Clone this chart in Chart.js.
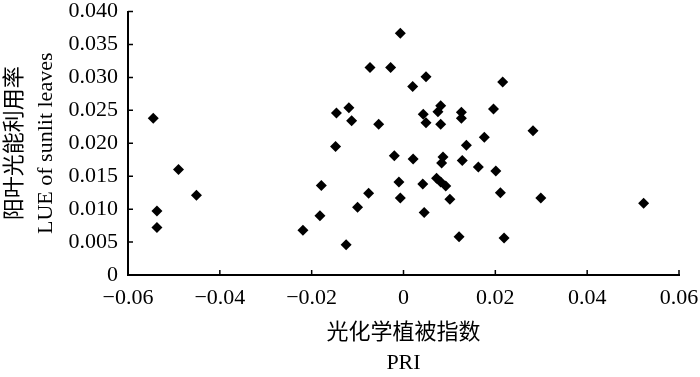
<!DOCTYPE html>
<html>
<head>
<meta charset="utf-8">
<script src="https://cdn.jsdelivr.net/npm/chart.js@4/dist/chart.umd.min.js"></script>
<style>
  html, body { margin: 0; padding: 0; background: #fff; }
  #wrap { width: 700px; height: 377px; }
</style>
</head>
<body>
<div id="wrap"><canvas id="chart"></canvas></div>
<script>
// PRI (x) vs LUE of sunlit leaves (y)
const pri = [
  -0.0545, -0.0537, -0.0537, -0.0490, -0.0451, -0.0219, -0.0182, -0.0179,
  -0.0148, -0.0125, -0.0100, -0.0076, -0.0020, -0.0010, -0.0007, 0.0021,
  0.0042, 0.0045, 0.0086, 0.0083, 0.0072, 0.0081, 0.0092, 0.0101,
  0.0121, 0.0128, 0.0137, 0.0176, 0.0163, 0.0201, 0.0211, 0.0219,
  0.0299, 0.0523, 0.0282, -0.0007, -0.0028, 0.0020, 0.0049, 0.0216,
  0.0043, 0.0049, 0.0081, 0.0075, 0.0081, 0.0126, 0.0126, 0.0196,
  -0.0054, -0.0073, -0.0146, -0.0119, -0.0113
];
const lue = [
  0.0238, 0.0097, 0.0072, 0.0160, 0.0121, 0.0068, 0.0090, 0.0136,
  0.0195, 0.0046, 0.0103, 0.0124, 0.0181, 0.0141, 0.0117, 0.0176,
  0.0138, 0.0095, 0.0179, 0.0170, 0.0147, 0.0141, 0.0135, 0.0115,
  0.0058, 0.0174, 0.0197, 0.0209, 0.0164, 0.0158, 0.0125, 0.0056,
  0.0117, 0.0109, 0.0219, 0.0367, 0.0315, 0.0286, 0.0301, 0.0293,
  0.0244, 0.0231, 0.0257, 0.0248, 0.0229, 0.0247, 0.0238, 0.0252,
  0.0229, 0.0315, 0.0246, 0.0254, 0.0234
];

const xTicks = [-0.06, -0.04, -0.02, 0, 0.02, 0.04, 0.06];
const yTicks = [0, 0.005, 0.01, 0.015, 0.02, 0.025, 0.03, 0.035, 0.04];

const xTitle = ["光化学植被指数", "PRI"];
const yTitle = ["阳叶光能利用率", "LUE of sunlit leaves"];

const FONT = '"Liberation Serif", "Times New Roman", "Noto Sans CJK SC", serif';

const points = pri.map((v, i) => ({ x: v, y: lue[i] }));

const fmtX = (v) => {
  if (Math.abs(v) < 1e-9) return "0";
  return (v < 0 ? "\u2212" : "") + Math.abs(v).toFixed(2);
};
const fmtY = (v) => (Math.abs(v) < 1e-9 ? "0" : v.toFixed(3));

// tick marks pointing into the plot
const innerTicks = {
  id: "innerTicks",
  afterDraw(chart) {
    const { ctx, chartArea, scales } = chart;
    ctx.save();
    ctx.strokeStyle = "#000";
    ctx.lineWidth = 1.5;
    ctx.beginPath();
    xTicks.forEach((v) => {
      const px = scales.x.getPixelForValue(v);
      ctx.moveTo(px, chartArea.bottom);
      ctx.lineTo(px, chartArea.bottom - 5);
    });
    yTicks.forEach((v) => {
      const py = scales.y.getPixelForValue(v);
      ctx.moveTo(chartArea.left, py);
      ctx.lineTo(chartArea.left + 5, py);
    });
    ctx.stroke();
    ctx.restore();
  },
};

new Chart(document.querySelector("#chart"), {
  type: "scatter",
  data: {
    datasets: [
      {
        data: points,
        pointStyle: "rectRot",
        pointRadius: 5.5,
        backgroundColor: "#000",
        borderColor: "#000",
        borderWidth: 0,
      },
    ],
  },
  options: {
    responsive: true,
    maintainAspectRatio: false,
    animation: false,
    layout: { padding: { top: 11.5, right: 21, left: 0, bottom: 0 } },
    plugins: { legend: { display: false }, tooltip: { enabled: false } },
    scales: {
      x: {
        type: "linear",
        min: -0.06,
        max: 0.06,
        afterBuildTicks: (scale) => {
          scale.ticks = xTicks.map((v) => ({ value: v }));
        },
        afterFit: (scale) => {
          scale.height = 102;
          scale.paddingLeft = 0;
          scale.paddingRight = 0;
        },
        grid: { display: false, drawTicks: false },
        border: { display: true, color: "#000", width: 2 },
        ticks: {
          color: "#000",
          padding: 10,
          maxRotation: 0,
          font: { family: FONT, size: 22 },
          callback: (v) => fmtX(v),
        },
        title: {
          display: true,
          text: xTitle,
          color: "#000",
          font: { family: FONT, size: 22, lineHeight: 1.4 },
          padding: { top: 0, bottom: -2 },
        },
      },
      y: {
        type: "linear",
        min: 0,
        max: 0.04,
        afterBuildTicks: (scale) => {
          scale.ticks = yTicks.map((v) => ({ value: v }));
        },
        afterFit: (scale) => {
          scale.width = 128;
          scale.paddingTop = 0;
          scale.paddingBottom = 0;
        },
        grid: { display: false, drawTicks: false },
        border: { display: true, color: "#000", width: 2 },
        ticks: {
          color: "#000",
          padding: 10,
          font: { family: FONT, size: 22 },
          callback: (v) => fmtY(v),
        },
        title: {
          display: true,
          text: yTitle,
          color: "#000",
          font: { family: FONT, size: 22, lineHeight: 1.4 },
          padding: { top: 0, bottom: 0 },
        },
      },
    },
  },
  plugins: [innerTicks],
});
</script>
</body>
</html>
